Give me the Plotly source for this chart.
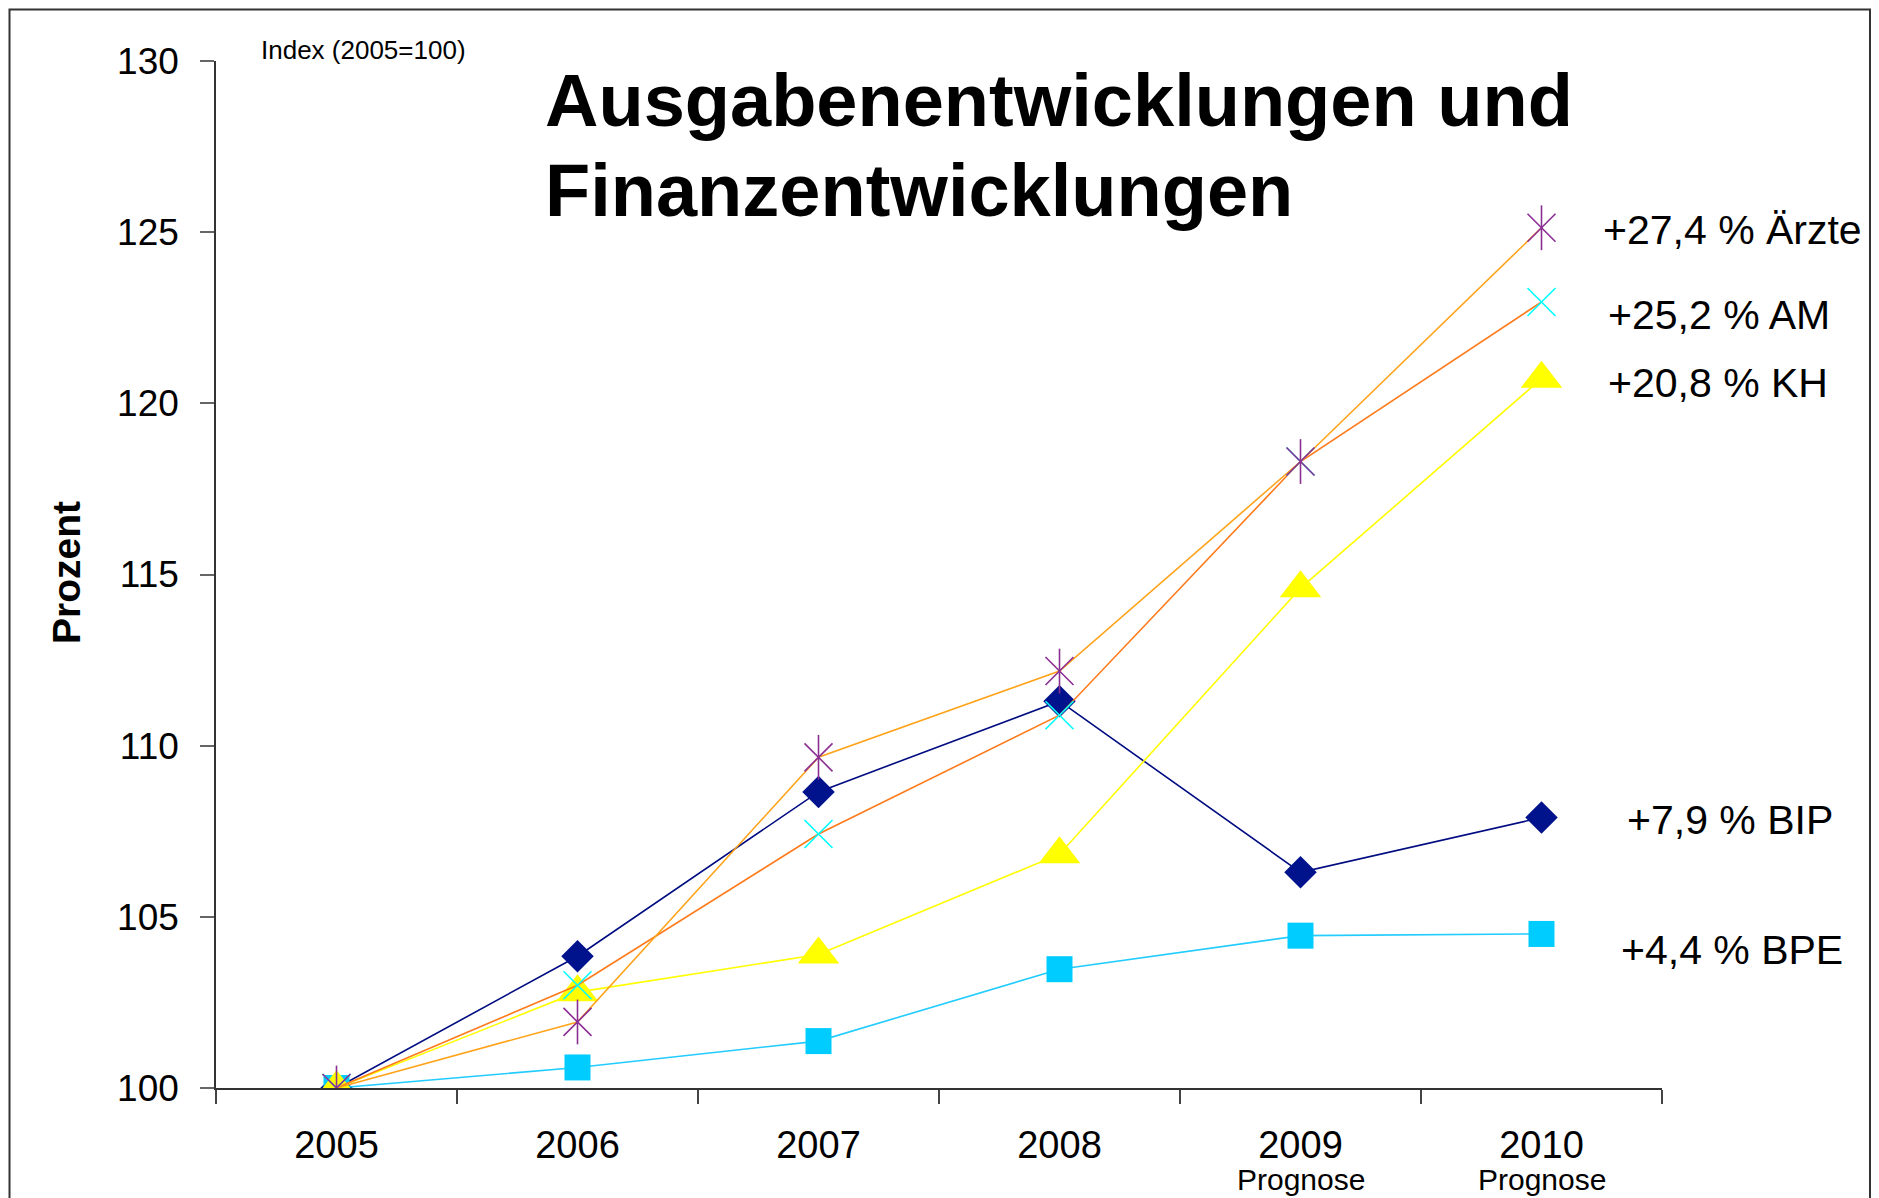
import plotly.graph_objects as go

# ---------------- data ----------------
years = ["2005", "2006", "2007", "2008", "2009", "2010"]
bip = [100.0, 103.85, 108.65, 111.3, 106.3, 107.9]
bpe = [100.0, 100.6, 101.37, 103.47, 104.45, 104.5]
kh = [100.0, 102.8, 103.9, 106.83, 114.6, 120.72]
am = [100.0, 103.0, 107.42, 110.89, 118.3, 122.96]
aerzte = [100.0, 101.93, 109.66, 112.18, 118.3, 125.13]

y_ticks = [100, 105, 110, 115, 120, 125, 130]
prognose_years = ["2009", "2010"]

right_labels = ["+27,4 % Ärzte", "+25,2 % AM", "+20,8 % KH", "+7,9 % BIP", "+4,4 % BPE"]

FONT = "Liberation Sans, Arial, Helvetica, sans-serif"

# page body has an 8px margin; layout numbers below are in screen pixels
OFF = 8
W, H = 1879 - OFF, 1198 - OFF
L, R, T, B = 216, 1662, 61, 1088  # plot area on screen


def pxx(x):
    return (x - L) / (R - L)


def pxy(y):
    return (B - y) / (B - T)


fig = go.Figure()

fig.add_trace(go.Scatter(
    x=years, y=bip, mode="lines+markers", name="BIP",
    line=dict(color="#000C80", width=1.6),
    marker=dict(symbol="diamond", size=25, color="#00138C", line=dict(width=0))))

fig.add_trace(go.Scatter(
    x=years, y=bpe, mode="lines+markers", name="BPE",
    line=dict(color="#22CCFF", width=1.6),
    marker=dict(symbol="square", size=26, color="#00CCFF", line=dict(width=0))))

fig.add_trace(go.Scatter(
    x=years, y=kh, mode="lines+markers", name="KH",
    line=dict(color="#FFFF00", width=1.6),
    marker=dict(symbol="triangle-up", size=36, color="#FFFF00", line=dict(width=0))))

fig.add_trace(go.Scatter(
    x=years, y=am, mode="lines+markers", name="AM",
    line=dict(color="#FF7A1A", width=1.6),
    marker=dict(symbol="x-thin-open", size=28, color="#00FFFF",
                line=dict(width=1.6, color="#00FFFF"))))

fig.add_trace(go.Scatter(
    x=years, y=aerzte, mode="lines+markers", name="Ärzte",
    line=dict(color="#FFA31A", width=1.6),
    marker=dict(symbol="x-thin-open", size=28, color="#8B2F93",
                line=dict(width=1.6, color="#8B2F93"))))

fig.add_trace(go.Scatter(
    x=years, y=aerzte, mode="markers", name="Ärzte", showlegend=False,
    marker=dict(symbol="line-ns-open", size=32, color="#8B2F93",
                line=dict(width=1.6, color="#8B2F93"))))

annotations = [
    dict(text="<b>Ausgabenentwicklungen und</b>", x=pxx(543), y=pxy(101),
         xanchor="left", yanchor="middle", font=dict(size=74, color="black", family=FONT)),
    dict(text="<b>Finanzentwicklungen</b>", x=pxx(543), y=pxy(190.5),
         xanchor="left", yanchor="middle", font=dict(size=74, color="black", family=FONT)),
    dict(text="Index (2005=100)", x=pxx(259), y=pxy(50),
         xanchor="left", yanchor="middle", font=dict(size=26, color="black", family=FONT)),
    dict(text="<b>Prozent</b>", x=pxx(66), y=pxy(573), textangle=-90,
         xanchor="center", yanchor="middle", font=dict(size=39, color="black", family=FONT)),
]

label_pos = [(1601, 230), (1606, 315), (1606, 383), (1625, 820), (1619, 950)]
for txt, (lx, ly) in zip(right_labels, label_pos):
    annotations.append(dict(text=txt, x=pxx(lx), y=pxy(ly), xanchor="left", yanchor="middle",
                            font=dict(size=41, color="black", family=FONT)))

for yr in prognose_years:
    annotations.append(dict(text="Prognose", x=years.index(yr), xref="x", y=pxy(1179), yref="paper",
                            xanchor="center", yanchor="middle",
                            font=dict(size=30, color="black", family=FONT)))

for a in annotations:
    a.setdefault("xref", "paper")
    a.setdefault("yref", "paper")
    a["showarrow"] = False

fig.update_layout(
    width=W, height=H,
    margin=dict(l=L - OFF, r=W - (R - OFF), t=T - OFF, b=H - (B - OFF), autoexpand=False),
    paper_bgcolor="white", plot_bgcolor="white",
    showlegend=False,
    font=dict(family=FONT, color="black"),
    annotations=annotations,
    shapes=[dict(type="rect", xref="paper", yref="paper",
                 x0=pxx(9.5), x1=pxx(1870), y0=pxy(1300), y1=pxy(9.5),
                 line=dict(color="#333333", width=2), fillcolor="rgba(0,0,0,0)", layer="below")],
)

fig.update_xaxes(
    type="category", categoryorder="array", categoryarray=years,
    range=[-0.5, 5.5], showgrid=False, zeroline=False,
    showline=True, linecolor="#333333", linewidth=1.5,
    ticks="outside", tickson="boundaries", ticklen=14, tickwidth=1.5, tickcolor="#444444",
    tickfont=dict(size=38, color="black", family=FONT), ticklabelstandoff=23,
)
fig.update_yaxes(
    range=[100, 130], tickvals=y_ticks, showgrid=False, zeroline=False,
    showline=True, linecolor="#333333", linewidth=1.5,
    ticks="outside", ticklen=14, tickwidth=1.5, tickcolor="#666666",
    tickfont=dict(size=37, color="black", family=FONT), ticklabelstandoff=14,
)

fig.write_html("out.html")
